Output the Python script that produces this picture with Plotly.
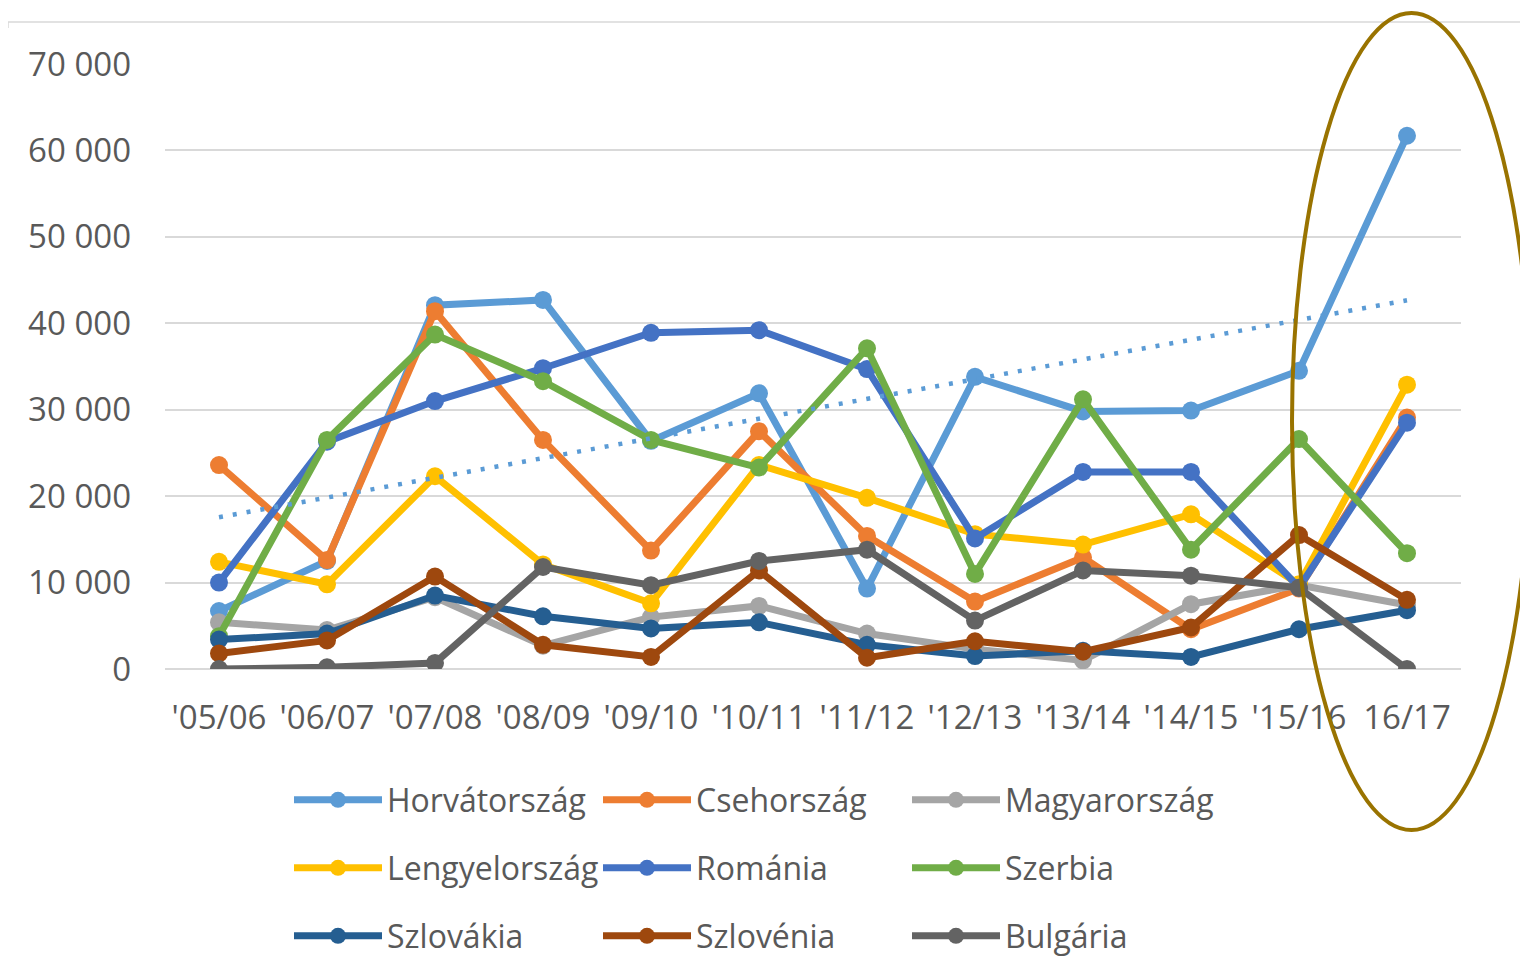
import numpy as np
import plotly.graph_objects as go

categories = ["'05/06", "'06/07", "'07/08", "'08/09", "'09/10", "'10/11",
              "'11/12", "'12/13", "'13/14", "'14/15", "'15/16", "16/17"]

horvatorszag = [6700, 12500, 42100, 42700, 26400, 31900, 9300, 33800, 29800, 29900, 34500, 61700]
csehorszag = [23600, 12600, 41400, 26500, 13700, 27500, 15400, 7800, 12900, 4600, 9300, 29100]
magyarorszag = [5400, 4500, 8300, 2700, 6000, 7300, 4100, 2300, 1000, 7500, 9700, 7400]
lengyelorszag = [12400, 9800, 22300, 12100, 7600, 23600, 19800, 15600, 14400, 17900, 9800, 32900]
romania = [10000, 26300, 31000, 34800, 38900, 39200, 34700, 15100, 22800, 22800, 9400, 28500]
szerbia = [3800, 26500, 38700, 33300, 26500, 23300, 37100, 11000, 31200, 13800, 26600, 13400]
szlovakia = [3400, 4100, 8500, 6100, 4700, 5400, 2800, 1500, 2100, 1400, 4600, 6800]
szlovenia = [1800, 3300, 10700, 2800, 1400, 11400, 1300, 3200, 2000, 4800, 15500, 8000]
bulgaria = [0, 200, 700, 11800, 9700, 12500, 13800, 5600, 11400, 10800, 9400, 0]

series = [
    ("Horvátország", horvatorszag, "#5B9BD5", "legend"),
    ("Csehország", csehorszag, "#ED7D31", "legend"),
    ("Magyarország", magyarorszag, "#A5A5A5", "legend"),
    ("Lengyelország", lengyelorszag, "#FFC000", "legend2"),
    ("Románia", romania, "#4472C4", "legend2"),
    ("Szerbia", szerbia, "#70AD47", "legend2"),
    ("Szlovákia", szlovakia, "#255E91", "legend3"),
    ("Szlovénia", szlovenia, "#9E480E", "legend3"),
    ("Bulgária", bulgaria, "#636363", "legend3"),
]

# page has an 8px body margin; work in screenshot pixels and convert
OFF = 8
SW, SH = 1528, 956
W, H = SW - OFF, SH - OFF
# plot area in screenshot pixels
PX0, PX1, PY0, PY1 = 165, 1461, 64, 669
L = PX0 - OFF
T = PY0 - OFF
R = W - (PX1 - OFF)
B = H - (PY1 - OFF)
FONT = "Open Sans"
GREY = "#595959"

fig = go.Figure()
for name, vals, color, lg in series:
    fig.add_trace(go.Scatter(
        x=categories, y=vals, name=name, mode="lines+markers",
        line=dict(color=color, width=7),
        marker=dict(color=color, size=18),
        legend=lg,
    ))

# linear trendline of Horvátország
idx = np.arange(len(categories))
slope, intercept = np.polyfit(idx, np.array(horvatorszag, dtype=float), 1)
trend = slope * idx + intercept
fig.add_trace(go.Scatter(
    x=categories, y=trend, mode="lines", showlegend=False,
    line=dict(color="#5B9BD5", width=4.5, dash="4px,10px"),
    hoverinfo="skip",
))

pw = PX1 - PX0
ph = PY1 - PY0

def px_x(p):
    return (p - PX0) / pw

def px_y(p):
    return (PY1 - p) / ph

shapes = [
    dict(type="line", xref="paper", yref="paper",
         x0=px_x(8), x1=px_x(1528), y0=px_y(22), y1=px_y(22),
         line=dict(color="#D9D9D9", width=1.5)),
    dict(type="line", xref="paper", yref="paper",
         x0=px_x(8), x1=px_x(8), y0=px_y(22), y1=px_y(28),
         line=dict(color="#D9D9D9", width=1.5)),
    dict(type="circle", xref="paper", yref="paper",
         x0=px_x(1292), x1=px_x(1531), y0=px_y(830), y1=px_y(13),
         line=dict(color="#997300", width=4), fillcolor="rgba(0,0,0,0)"),
]

legend_base = dict(
    orientation="h", xref="container", yref="container",
    xanchor="left", yanchor="middle",
    font=dict(family=FONT, size=32, color=GREY),
    entrywidth=206, entrywidthmode="pixels", itemwidth=88,
    bgcolor="rgba(0,0,0,0)", borderwidth=0, traceorder="normal",
)
leg_rows = [800, 868, 936]
LEG_X = 289

fig.update_layout(
    width=W, height=H,
    margin=dict(l=L, r=R, t=T, b=B, pad=0),
    paper_bgcolor="white", plot_bgcolor="white",
    separators=", ",
    font=dict(family=FONT, size=32, color=GREY),
    xaxis=dict(
        type="category", range=[-0.5, 11.5], showgrid=False, showline=False,
        zeroline=False, ticks="", tickfont=dict(family=FONT, size=33, color=GREY),
        ticklabelstandoff=26, fixedrange=True,
    ),
    yaxis=dict(
        range=[0, 70000], tickvals=[0, 10000, 20000, 30000, 40000, 50000, 60000, 70000],
        tickformat=",.0f", showgrid=True, gridcolor="#D9D9D9", gridwidth=1.5,
        zeroline=True, zerolinecolor="#D9D9D9", zerolinewidth=1.5,
        showline=False, ticks="", tickfont=dict(family=FONT, size=33, color=GREY),
        ticklabelstandoff=33,
    ),
    shapes=shapes,
    legend=dict(legend_base, x=(LEG_X - OFF) / W, y=1 - (leg_rows[0] - OFF) / H),
    legend2=dict(legend_base, x=(LEG_X - OFF) / W, y=1 - (leg_rows[1] - OFF) / H),
    legend3=dict(legend_base, x=(LEG_X - OFF) / W, y=1 - (leg_rows[2] - OFF) / H),
)

fig.write_html("out.html")
